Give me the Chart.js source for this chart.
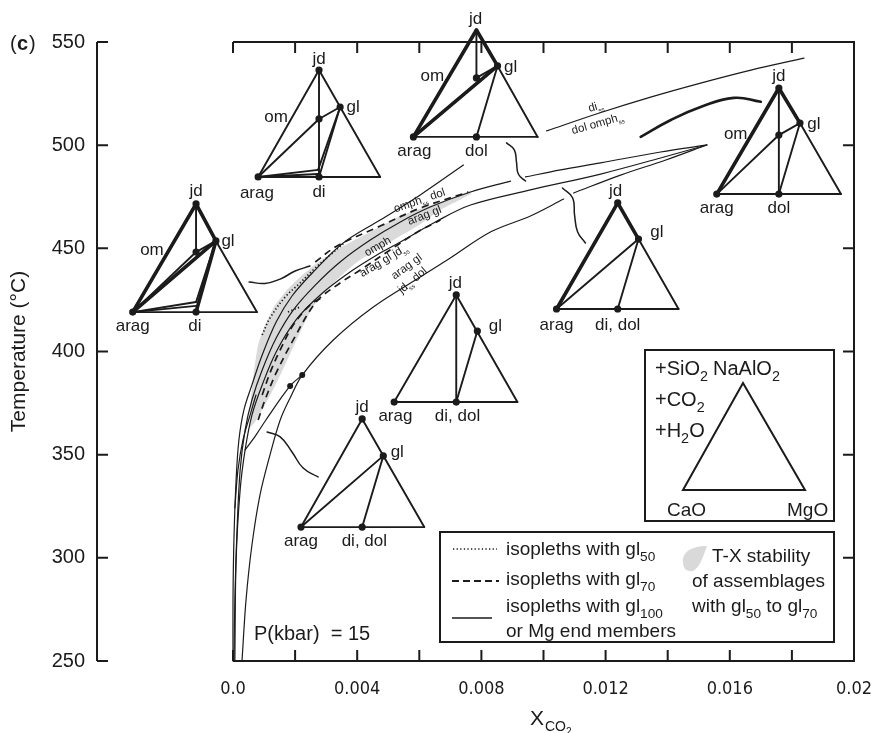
<!DOCTYPE html>
<html>
<head>
<meta charset="utf-8">
<title>T-X(CO2) isopleths, P = 15 kbar</title>
<script src="https://cdn.jsdelivr.net/npm/chart.js@4.4.1/dist/chart.umd.min.js"></script>
<style>
  html, body { margin: 0; padding: 0; background: #fff; }
  canvas { display: block; }
</style>
</head>
<body>
<canvas id="txChart" width="873" height="733"></canvas>
<script>
// ============================================================
//  T - X(CO2) section, P = 15 kbar  -  panel (c)
// ============================================================

const INK = '#1b1b1b';
const FONT = '"Liberation Sans", Arial, Helvetica, sans-serif';
const NARROW = '"DejaVu Sans Condensed", "Liberation Sans Narrow", "Liberation Sans", Arial, sans-serif';

// ── Axes ───────────────────────────────────────────────
// x starts left of zero so the detached T axis and the left sketch fit on the plot
const X_MIN = -0.00438;
const xTickVals = [0, 0.004, 0.008, 0.012, 0.016, 0.02];
const xTickLabels = ['0.0', '0.004', '0.008', '0.012', '0.016', '0.02'];
const xMinorVals = [0, 0.002, 0.004, 0.006, 0.008, 0.01, 0.012, 0.014, 0.016, 0.018, 0.02];
const yTickVals = [250, 300, 350, 400, 450, 500, 550];

// ── Isopleths with gl100 / Mg end members (solid), [X_CO2, T] ──
const isoOmphDi = [[0,250],[0,279.6],[0.00003,308.7],[0.0001,337.7],[0.00019,357.1],[0.00035,371.6],[0.00061,383.8],[0.00094,398.3],[0.00139,414.3],[0.0019,426.9],[0.00258,438.5],[0.00355,452.6],[0.00474,463.7],[0.00603,475.9],[0.00742,490.4],null,[0.0101,506.9],[0.0118,515.6],[0.01345,523.3],[0.01506,530.1],[0.01668,536.4],[0.01839,542.2]];
const isoOmphDol = [[0.00003,250],[0.00006,279.6],[0.00013,313.5],[0.00023,342.6],[0.00039,362.0],[0.00061,376.5],[0.00094,391.0],[0.00139,406.5],[0.00194,420.1],[0.00265,432.2],[0.00345,443.4],[0.00442,454.0],[0.00539,462.8],[0.00635,470.0],[0.00765,477.3],[0.00894,482.6],null,[0.00942,484.6],[0.01055,488.0],[0.01184,491.4],[0.01377,496.7],[0.01526,500.1]];
const isoJdss = [[0.00006,250],[0.0001,298.9],[0.00023,332.9],[0.00039,352.3],[0.00061,369.2],[0.00094,383.8],[0.00139,399.8],[0.00203,415.3],[0.00281,427.4],[0.00377,438.5],[0.00474,447.7],[0.00539,453.1],[0.00652,462.8],[0.00765,471.0],[0.00958,478.3],[0.01184,486.0],[0.01377,493.8],[0.01526,500.1]];
const isoJdDol = [[0.00029,250],[0.00042,279.6],[0.00061,306.2],[0.00087,330.5],[0.00119,349.8],[0.00152,366.8],[0.00184,377.5],[0.00223,388.6],[0.00323,405.6],[0.00452,421.6],[0.00603,436.1],[0.007,445.3],[0.00829,457.9],[0.00958,465.7],[0.01065,473.9],null,[0.01097,476.8],[0.01248,485.5],[0.01394,492.8],[0.01526,500.1]];
const isoBranch = [[0.00039,352.3],[0.00074,359.5],[0.00106,366.8],[0.00184,383.3],[0.00223,388.6]];
const isoShort = [[0.00006,324.2],[0.00016,342.6],[0.00032,357.1],[0.00055,369.2],[0.00074,378.9]];
const invariantPts = [[0.00184,383.3],[0.00223,388.6]];

// ── Isopleths with gl70 (dashed) and gl50 (dotted) ─────
const gl70Upper = [[0.00265,443.4],[0.00335,451.1],[0.00474,460.8],[0.00603,469.5],[0.00758,477.3]];
const gl70Lower = [[0.00081,366.8],[0.00103,376.5],[0.00139,389.6],[0.00194,405.6],[0.00268,424.0],[0.00345,433.2],[0.0041,439.5],[0.00506,449.2],[0.00594,457.9],[0.00668,463.7]];
const gl70Inner = [[0.00094,378.9],[0.00119,389.6],[0.00152,400.8],[0.00194,412.8],[0.00248,422.5],[0.0029,426.4]];
const gl50Main = [[0.00094,408.0],[0.00119,416.2],[0.00168,426.4],[0.00216,433.2],[0.00258,439.5],[0.00313,446.8],[0.00355,452.1]];
const gl50Short = [[0.00177,419.1],[0.00216,421.6]];

// T-X stability field of assemblages with gl50 to gl70 (outline)
const grayField = [[0.00055,362.9],[0.00058,376.5],[0.00068,391.0],[0.00081,403.2],[0.00103,412.8],[0.00132,421.6],[0.00174,429.8],[0.00216,436.1],[0.00271,442.9],[0.00345,450.2],[0.00442,457.9],[0.00539,465.7],[0.00668,472.5],[0.00765,477.8],[0.00765,476.3],[0.00668,468.6],[0.00594,460.8],[0.00506,453.1],[0.004,443.4],[0.00323,433.2],[0.00268,424.0],[0.00232,414.3],[0.0019,400.8],[0.00145,386.2],[0.00103,374.1],[0.00071,365.8]];

// wavy pointers from the sketches to their fields
const wave1 = [[0.00052,433.7],[0.00103,433.0],[0.00152,435.1],[0.002,439.0],[0.00248,441.4]];
const wave2 = [[0.0011,361.0],[0.00152,358.6],[0.0019,351.3],[0.00226,343.5],[0.00274,339.2]];
const wave3 = [[0.00881,501.1],[0.00906,497.7],[0.00913,491.8],[0.00919,486.0],[0.00942,482.6]];
const wave4 = [[0.01061,479.2],[0.01094,474.4],[0.011,466.2],[0.0111,457.9],[0.01135,452.6]];
const wave5 = [[0.01313,504.0],[0.0141,512.2],[0.01506,518.5],[0.01613,522.9],[0.017,521.0]];

// field labels: text, X, T, angle
const fieldLabels = [
  ['di_{ss}', 0.01168, 519.0, -16],
  ['dol omph_{ss}', 0.01174, 510.7, -16],
  ['omph_{ss} dol', 0.0060, 473.4, -19],
  ['arag gl', 0.00616, 466.2, -21],
  ['omph', 0.00465, 451.1, -30],
  ['arag gl jd_{ss}', 0.00484, 444.3, -31],
  ['arag gl', 0.00558, 441.4, -36],
  ['jd_{ss} dol', 0.00577, 434.7, -40]
];

// ── Ternary sketches (CaO - MgO - NaAlO2 projections) ──
const dgm1Pts = { jd:[0.00277,536.4], gl:[0.00345,518.5], om:[0.00277,512.7], arag:[0.00081,484.6], di:[0.00277,484.6], mgo:[0.00474,484.6], t1:[0.00274,488.0], t2:[0.00274,486.0] };
const dgm1Ties = [['arag','jd'],['jd','mgo'],['arag','mgo'],['jd','di'],['arag','om'],['om','gl'],['gl','di'],['gl','t1'],['arag','t1'],['arag','t2']];
const dgm1Heavy = [];
const dgm1Dots = ['jd','gl','om','arag','di'];
const dgm1Labels = [['jd',0.00277,542.2],['om',0.00139,514.1],['gl',0.00387,519.0],['arag',0.00077,477.3],['di',0.00277,477.8]];

const dgm2Pts = { jd:[0.00784,555.8], gl:[0.00852,538.4], om:[0.00784,532.6], arag:[0.00581,504.0], dol:[0.00784,504.0], mgo:[0.00981,504.0] };
const dgm2Ties = [['gl','mgo'],['arag','mgo'],['jd','om'],['om','gl'],['dol','gl']];
const dgm2Heavy = [['arag','jd'],['jd','gl'],['arag','gl']];
const dgm2Dots = ['jd','gl','om','arag','dol'];
const dgm2Labels = [['jd',0.00781,561.6],['om',0.00642,534.0],['gl',0.00894,538.4],['arag',0.00584,497.7],['dol',0.00784,497.7]];

const dgm3Pts = { jd:[0.01758,527.7], gl:[0.01826,510.7], om:[0.01758,504.9], arag:[0.01558,476.3], dol:[0.01758,476.3], mgo:[0.01958,476.3] };
const dgm3Ties = [['gl','mgo'],['arag','mgo'],['jd','dol'],['arag','om'],['om','gl'],['dol','gl']];
const dgm3Heavy = [['arag','jd'],['jd','gl']];
const dgm3Dots = ['jd','gl','om','arag','dol'];
const dgm3Labels = [['jd',0.01758,534.0],['om',0.01619,505.9],['gl',0.01871,510.7],['arag',0.01558,470.0],['dol',0.01758,470.0]];

const dgm4Pts = { jd:[-0.00119,471.5], gl:[-0.00055,453.6], om:[-0.00119,448.2], arag:[-0.00323,419.1], di:[-0.00119,419.1], mgo:[0.00077,419.1], t1:[-0.00119,424.0], t2:[-0.00119,422.1] };
const dgm4Ties = [['gl','mgo'],['arag','mgo'],['jd','om'],['arag','om'],['om','gl'],['gl','t1'],['arag','t1'],['arag','t2']];
const dgm4Heavy = [['arag','jd'],['jd','gl'],['arag','gl'],['gl','di']];
const dgm4Dots = ['jd','gl','om','arag','di'];
const dgm4Labels = [['jd',-0.00119,478.3],['om',-0.00261,449.7],['gl',-0.00016,454.0],['arag',-0.00323,412.8],['di',-0.00123,412.8]];

const dgm5Pts = { jd:[0.01239,472.0], gl:[0.01306,454.5], arag:[0.01042,420.6], didol:[0.01239,420.6], mgo:[0.01435,420.6] };
const dgm5Ties = [['gl','mgo'],['arag','mgo'],['arag','gl'],['gl','didol']];
const dgm5Heavy = [['arag','jd'],['jd','gl']];
const dgm5Dots = ['jd','gl','arag','didol'];
const dgm5Labels = [['jd',0.01232,478.3],['gl',0.01365,458.4],['arag',0.01042,413.3],['di, dol',0.01239,413.3]];

const dgm6Pts = { jd:[0.00719,427.4], gl:[0.00787,409.9], arag:[0.00519,375.5], didol:[0.00719,375.5], mgo:[0.00916,375.5] };
const dgm6Ties = [['arag','jd'],['jd','mgo'],['arag','mgo'],['jd','didol'],['gl','didol']];
const dgm6Heavy = [];
const dgm6Dots = ['jd','gl','arag','didol'];
const dgm6Labels = [['jd',0.00716,433.7],['gl',0.00845,412.8],['arag',0.00523,369.2],['di, dol',0.00723,369.2]];

const dgm7Pts = { jd:[0.00416,367.3], gl:[0.00484,349.4], arag:[0.00219,314.9], didol:[0.00416,314.9], mgo:[0.00616,314.9] };
const dgm7Ties = [['arag','jd'],['jd','mgo'],['arag','mgo'],['arag','gl'],['gl','didol']];
const dgm7Heavy = [];
const dgm7Dots = ['jd','gl','arag','didol'];
const dgm7Labels = [['jd',0.00416,373.6],['gl',0.00529,351.8],['arag',0.00219,308.7],['di, dol',0.00423,308.7]];

const sketchLabels = [].concat(dgm1Labels, dgm2Labels, dgm3Labels, dgm4Labels, dgm5Labels, dgm6Labels, dgm7Labels);

// ── Build datasets ─────────────────────────────────────
const datasets = [];

function toXY(list) {
    return list.map(p => p ? { x: p[0], y: p[1] } : { x: null, y: null });
}

function addCurve(list, opts) {
    datasets.push(Object.assign({
        data: toXY(list),
        showLine: true,
        pointRadius: 0,
        borderColor: INK,
        borderWidth: 1.2,
        tension: 0.35,
        spanGaps: false,
        clip: false,
        order: 2,
        borderCapStyle: 'round',
        borderJoinStyle: 'round'
    }, opts));
}

function addDiagram(pts, ties, heavy, dots) {
    ties.forEach(([a, b]) => addCurve([pts[a], pts[b]], { borderWidth: 1.9, tension: 0 }));
    heavy.forEach(([a, b]) => addCurve([pts[a], pts[b]], { borderWidth: 3.6, tension: 0 }));
    addCurve(dots.map(k => pts[k]), {
        showLine: false, pointRadius: 3.6, pointBackgroundColor: INK, pointBorderWidth: 0, order: 1
    });
}

// shaded field first (drawn underneath)
addCurve(grayField, { fill: 'shape', backgroundColor: '#dadada', borderWidth: 0, tension: 0.2, order: 9 });

[isoOmphDi, isoOmphDol, isoJdss, isoJdDol, isoBranch, isoShort].forEach(c => addCurve(c));
addCurve(invariantPts, { showLine: false, pointRadius: 3, pointBackgroundColor: INK, pointBorderWidth: 0 });

[gl70Upper, gl70Lower, gl70Inner].forEach(c => addCurve(c, { borderDash: [7, 5], borderWidth: 1.7, borderCapStyle: 'butt' }));
[gl50Main, gl50Short].forEach(c => addCurve(c, { borderDash: [1.3, 2.3], borderWidth: 1.7, borderCapStyle: 'butt' }));

[wave1, wave2, wave3, wave4].forEach(c => addCurve(c, { tension: 0.45, borderWidth: 1.5 }));
addCurve(wave5, { tension: 0.45, borderWidth: 2.6 });

addDiagram(dgm1Pts, dgm1Ties, dgm1Heavy, dgm1Dots);
addDiagram(dgm2Pts, dgm2Ties, dgm2Heavy, dgm2Dots);
addDiagram(dgm3Pts, dgm3Ties, dgm3Heavy, dgm3Dots);
addDiagram(dgm4Pts, dgm4Ties, dgm4Heavy, dgm4Dots);
addDiagram(dgm5Pts, dgm5Ties, dgm5Heavy, dgm5Dots);
addDiagram(dgm6Pts, dgm6Ties, dgm6Heavy, dgm6Dots);
addDiagram(dgm7Pts, dgm7Ties, dgm7Heavy, dgm7Dots);

// ── Text helper: 'gl_{50}' -> gl with subscript 50 ─────
function richText(ctx, str, x, y, size, align, subRatio, weight) {
    const ratio = subRatio || 0.72;
    const parts = str.split(/(_\{[^}]*\})/).filter(s => s.length).map(s =>
        s.startsWith('_{') ? { t: s.slice(2, -1), sub: true } : { t: s, sub: false });
    let total = 0;
    parts.forEach(p => {
        ctx.font = (weight || '') + ' ' + (p.sub ? size * ratio : size) + 'px ' + FONT;
        p.w = ctx.measureText(p.t).width;
        total += p.w;
    });
    let cx = align === 'center' ? x - total / 2 : x;
    ctx.textAlign = 'left';
    ctx.textBaseline = 'alphabetic';
    parts.forEach(p => {
        ctx.font = (weight || '') + ' ' + (p.sub ? size * ratio : size) + 'px ' + FONT;
        ctx.fillText(p.t, cx, p.sub ? y + size * 0.3 : y);
        cx += p.w;
    });
}

// ── Frame, ticks, labels, legend ───────────────────────
const overlay = {
    id: 'overlay',
    beforeDatasetsDraw(chart) {
        const { ctx, chartArea } = chart;
        const X = v => chart.scales.x.getPixelForValue(v);
        const Y = v => chart.scales.y.getPixelForValue(v);
        const x0 = X(0), x1 = X(0.02), yT = Y(550), yB = Y(250), xa = chartArea.left;
        ctx.save();
        ctx.strokeStyle = INK;
        ctx.lineWidth = 2;
        ctx.beginPath();
        ctx.moveTo(x0, yB); ctx.lineTo(x1, yB); ctx.lineTo(x1, yT); ctx.lineTo(x0, yT);
        ctx.moveTo(xa, yT); ctx.lineTo(xa, yB);
        xMinorVals.forEach(v => {
            const x = X(v);
            ctx.moveTo(x, yB); ctx.lineTo(x, yB - 11);
            ctx.moveTo(x, yT); ctx.lineTo(x, yT + 11);
        });
        yTickVals.forEach(v => {
            const y = Y(v);
            ctx.moveTo(xa, y); ctx.lineTo(xa + 11, y);
            ctx.moveTo(x1, y); ctx.lineTo(x1 - 11, y);
        });
        ctx.stroke();
        ctx.restore();
    },
    afterDatasetsDraw(chart) {
        const { ctx } = chart;
        const X = v => chart.scales.x.getPixelForValue(v);
        const Y = v => chart.scales.y.getPixelForValue(v);
        ctx.save();
        ctx.fillStyle = INK;
        sketchLabels.forEach(([t, x, y]) => richText(ctx, t, X(x), Y(y) + 6, 17, 'center'));
        fieldLabels.forEach(([t, x, y, a]) => {
            ctx.save();
            ctx.translate(X(x), Y(y));
            ctx.rotate(a * Math.PI / 180);
            richText(ctx, t, 0, 4, 11.5, 'center', 0.55);
            ctx.restore();
        });
        ctx.restore();
    },
    afterDraw(chart) {
        const { ctx } = chart;
        ctx.save();
        ctx.fillStyle = INK;
        ctx.strokeStyle = INK;

        // panel letter
        richText(ctx, '(', 10, 50, 20, 'left');
        richText(ctx, 'c', 17, 50, 20, 'left', 0.72, 'bold');
        richText(ctx, ')', 29, 50, 20, 'left');

        // x title X_CO2
        ctx.font = '21px ' + FONT;
        ctx.textBaseline = 'alphabetic';
        ctx.textAlign = 'left';
        ctx.fillText('X', 530, 725);
        ctx.font = '14px ' + FONT;
        ctx.fillText('CO', 545, 731);
        ctx.font = '10px ' + FONT;
        ctx.fillText('2', 566, 735);

        richText(ctx, 'P(kbar)  = 15', 254, 640, 20, 'left');

        // composition inset
        ctx.lineWidth = 2;
        ctx.strokeRect(645, 350, 189, 171);
        richText(ctx, '+SiO_{2}', 655, 375, 20, 'left');
        richText(ctx, 'NaAlO_{2}', 713, 375, 20, 'left');
        richText(ctx, '+CO_{2}', 655, 406, 20, 'left');
        richText(ctx, '+H_{2}O', 655, 437, 20, 'left');
        richText(ctx, 'CaO', 667, 516, 19, 'left');
        richText(ctx, 'MgO', 787, 516, 19, 'left');
        ctx.beginPath();
        ctx.moveTo(743, 383); ctx.lineTo(683, 490); ctx.lineTo(805, 490); ctx.closePath();
        ctx.stroke();

        // line legend
        ctx.strokeRect(440, 532, 394, 110);
        ctx.lineWidth = 1.6;
        ctx.setLineDash([1.3, 2.3]);
        ctx.beginPath(); ctx.moveTo(453, 549); ctx.lineTo(497, 549); ctx.stroke();
        ctx.setLineDash([7, 4]);
        ctx.lineWidth = 1.8;
        ctx.beginPath(); ctx.moveTo(452, 581); ctx.lineTo(499, 581); ctx.stroke();
        ctx.setLineDash([]);
        ctx.lineWidth = 1.5;
        ctx.beginPath(); ctx.moveTo(452, 618); ctx.lineTo(492, 618); ctx.stroke();
        richText(ctx, 'isopleths with gl_{50}', 506, 555, 19, 'left');
        richText(ctx, 'isopleths with gl_{70}', 506, 585, 19, 'left');
        richText(ctx, 'isopleths with gl_{100}', 506, 612, 19, 'left');
        richText(ctx, 'or Mg end members', 506, 637, 19, 'left');

        // shaded-field swatch
        ctx.fillStyle = '#d9d9d9';
        ctx.beginPath();
        ctx.moveTo(683, 562);
        ctx.bezierCurveTo(682, 552, 692, 546, 707, 546);
        ctx.bezierCurveTo(703, 556, 701, 566, 693, 571);
        ctx.bezierCurveTo(687, 572, 683, 569, 683, 562);
        ctx.fill();
        ctx.fillStyle = INK;
        richText(ctx, 'T-X stability', 712, 562, 19, 'left');
        richText(ctx, 'of assemblages', 692, 587, 19, 'left');
        richText(ctx, 'with gl_{50} to gl_{70}', 692, 612, 19, 'left');
        ctx.restore();
    }
};

// ── Chart ──────────────────────────────────────────────
new Chart(document.getElementById('txChart'), {
    type: 'scatter',
    data: { datasets },
    options: {
        responsive: false,
        animation: false,
        devicePixelRatio: 1,
        events: [],
        layout: { padding: { top: 42, right: 19, left: 0, bottom: 0 } },
        plugins: { legend: { display: false }, tooltip: { enabled: false } },
        scales: {
            x: {
                type: 'linear',
                min: X_MIN,
                max: 0.02,
                grid: { display: false, drawTicks: false },
                border: { display: false },
                afterFit: s => { s.height = 72; s.paddingLeft = 0; s.paddingRight = 0; },
                afterBuildTicks: s => { s.ticks = xTickVals.map(v => ({ value: v })); },
                ticks: {
                    callback: (v, i) => xTickLabels[i],
                    autoSkip: false,
                    maxRotation: 0,
                    padding: 18,
                    color: INK,
                    font: { family: NARROW, size: 18 }
                }
            },
            y: {
                type: 'linear',
                min: 250,
                max: 550,
                grid: { display: false, drawTicks: false },
                border: { display: false },
                afterFit: s => { s.width = 97; s.paddingTop = 0; s.paddingBottom = 0; },
                afterBuildTicks: s => { s.ticks = yTickVals.map(v => ({ value: v })); },
                ticks: {
                    padding: 12,
                    color: INK,
                    font: { family: FONT, size: 20 }
                },
                title: {
                    display: true,
                    text: 'Temperature (°C)',
                    color: INK,
                    font: { family: FONT, size: 21 },
                    padding: { top: 7, bottom: 0 }
                }
            }
        }
    },
    plugins: [overlay]
});
</script>
</body>
</html>
